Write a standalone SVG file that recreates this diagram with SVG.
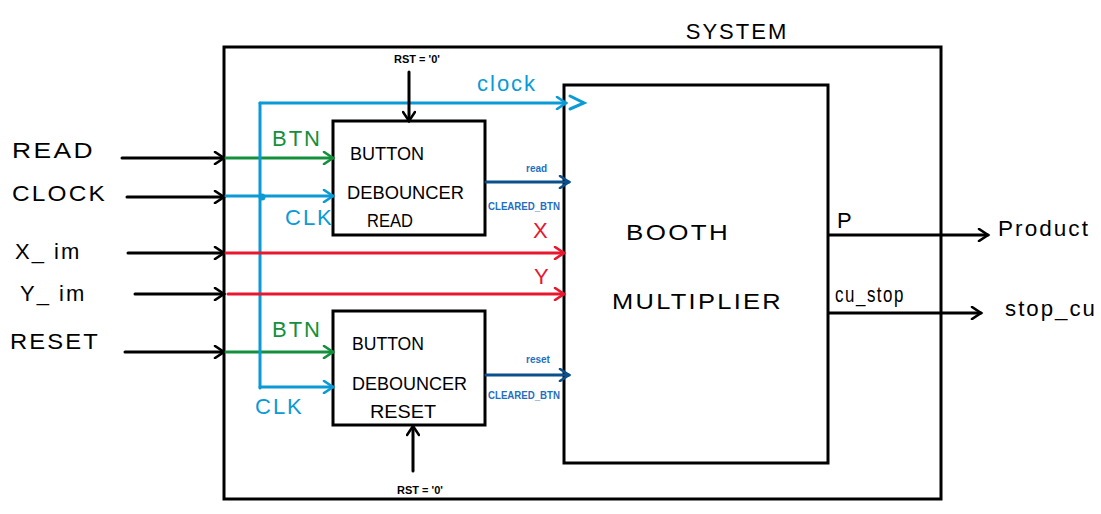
<svg xmlns="http://www.w3.org/2000/svg" width="1101" height="514" viewBox="0 0 1101 514">
<defs>
<style>
.box{fill:#fff;stroke:#000;stroke-width:3}
.w{fill:none;stroke-width:3;stroke-linecap:round}
.k{stroke:#000}.b{stroke:#0a9ad6}.g{stroke:#14903c}.r{stroke:#e8162e}.d{stroke:#0b4f8c}
.hand{font-family:"Liberation Sans",Arial,sans-serif;font-size:22px;fill:#000;letter-spacing:2px}
.inbox{font-family:"Liberation Sans",Arial,sans-serif;font-size:19px;fill:#000}
.small{font-family:"Liberation Sans",Arial,sans-serif;font-size:10px;fill:#1f6fc0;font-weight:bold}
.rst{font-family:"Liberation Sans",Arial,sans-serif;font-size:11px;fill:#000;font-weight:bold}
</style>
<marker id="ak" markerWidth="14" markerHeight="14" refX="11" refY="7" orient="auto" markerUnits="userSpaceOnUse"><path d="M2,1 L11,7 L2,13" fill="none" stroke="#000" stroke-width="2.6" stroke-linecap="round"/></marker>
<marker id="ab" markerWidth="14" markerHeight="14" refX="11" refY="7" orient="auto" markerUnits="userSpaceOnUse"><path d="M2,1 L11,7 L2,13" fill="none" stroke="#0a9ad6" stroke-width="2.6" stroke-linecap="round"/></marker>
<marker id="ag" markerWidth="14" markerHeight="14" refX="11" refY="7" orient="auto" markerUnits="userSpaceOnUse"><path d="M2,1 L11,7 L2,13" fill="none" stroke="#14903c" stroke-width="2.6" stroke-linecap="round"/></marker>
<marker id="ar" markerWidth="14" markerHeight="14" refX="11" refY="7" orient="auto" markerUnits="userSpaceOnUse"><path d="M2,1 L11,7 L2,13" fill="none" stroke="#e8162e" stroke-width="2.6" stroke-linecap="round"/></marker>
<marker id="ad" markerWidth="14" markerHeight="14" refX="11" refY="7" orient="auto" markerUnits="userSpaceOnUse"><path d="M2,1 L11,7 L2,13" fill="none" stroke="#0b4f8c" stroke-width="2.6" stroke-linecap="round"/></marker>
</defs>
<rect width="1101" height="514" fill="#fff"/>

<g id="system">
<rect class="box" x="224" y="47" width="717" height="452" fill="none"/>
<text class="hand" x="737" y="39" font-size="18" text-anchor="middle">SYSTEM</text>
</g>

<g id="booth">
<rect class="box" x="564" y="85" width="264" height="378"/>
<text class="hand" x="626" y="240" font-size="24" textLength="104" lengthAdjust="spacingAndGlyphs">BOOTH</text>
<text class="hand" x="612" y="309" font-size="24" textLength="171" lengthAdjust="spacingAndGlyphs">MULTIPLIER</text>
</g>

<g id="debouncer-read">
<rect class="box" x="333" y="121" width="152" height="114"/>
<text class="inbox" x="350" y="160" textLength="74" lengthAdjust="spacingAndGlyphs">BUTTON</text>
<text class="inbox" x="347" y="199" textLength="117" lengthAdjust="spacingAndGlyphs">DEBOUNCER</text>
<text class="inbox" x="367" y="227" textLength="46" lengthAdjust="spacingAndGlyphs">READ</text>
</g>

<g id="debouncer-reset">
<rect class="box" x="333" y="311" width="152" height="114"/>
<text class="inbox" x="352" y="350" textLength="72" lengthAdjust="spacingAndGlyphs">BUTTON</text>
<text class="inbox" x="352" y="390" textLength="115" lengthAdjust="spacingAndGlyphs">DEBOUNCER</text>
<text class="inbox" x="370" y="418" textLength="66" lengthAdjust="spacingAndGlyphs">RESET</text>
</g>

<g id="labels">
<text class="hand" x="12" y="158" textLength="83" lengthAdjust="spacingAndGlyphs">READ</text>
<text class="hand" x="12" y="201" textLength="95" lengthAdjust="spacingAndGlyphs">CLOCK</text>
<text class="hand" x="15" y="259">X_ im</text>
<text class="hand" x="20" y="301">Y_ im</text>
<text class="hand" x="10" y="349" textLength="90" lengthAdjust="spacingAndGlyphs">RESET</text>
<text class="hand" x="272" y="146" style="fill:#14903c" font-size="18">BTN</text>
<text class="hand" x="272" y="337" style="fill:#14903c" font-size="18">BTN</text>
<text class="hand" x="285" y="225" style="fill:#0a9ad6" font-size="17">CLK</text>
<text class="hand" x="255" y="414" style="fill:#0a9ad6" font-size="17">CLK</text>
<text class="hand" x="477" y="91" style="fill:#0a9ad6" font-size="20">clock</text>
<text class="hand" x="533" y="238" style="fill:#e8162e" font-size="20">X</text>
<text class="hand" x="534" y="284" style="fill:#e8162e" font-size="20">Y</text>
<text class="small" x="526" y="172">read</text>
<text class="small" x="488" y="210" textLength="72" lengthAdjust="spacingAndGlyphs">CLEARED_BTN</text>
<text class="small" x="526" y="363">reset</text>
<text class="small" x="488" y="399" textLength="72" lengthAdjust="spacingAndGlyphs">CLEARED_BTN</text>
<text class="rst" x="417" y="63" text-anchor="middle">RST = '0'</text>
<text class="rst" x="420" y="494" text-anchor="middle">RST = '0'</text>
<text class="hand" x="837" y="228" font-size="18">P</text>
<text class="hand" x="835" y="302" font-size="15" letter-spacing="0" textLength="70" lengthAdjust="spacingAndGlyphs">cu_stop</text>
<text class="hand" x="998" y="236" font-size="22" letter-spacing="0" textLength="92" lengthAdjust="spacingAndGlyphs">Product</text>
<text class="hand" x="1005" y="316" font-size="20" letter-spacing="0" textLength="92" lengthAdjust="spacingAndGlyphs">stop_cu</text>
</g>

<g id="connectors">
<line class="w k" x1="122" y1="158" x2="224" y2="158" marker-end="url(#ak)"/>
<line class="w k" x1="127" y1="197" x2="224" y2="197" marker-end="url(#ak)"/>
<line class="w k" x1="128" y1="253" x2="224" y2="253" marker-end="url(#ak)"/>
<line class="w k" x1="135" y1="294" x2="224" y2="294" marker-end="url(#ak)"/>
<line class="w k" x1="125" y1="352" x2="224" y2="352" marker-end="url(#ak)"/>

<line class="w g" x1="226" y1="158" x2="333" y2="158" marker-end="url(#ag)"/>
<line class="w g" x1="226" y1="352" x2="333" y2="352" marker-end="url(#ag)"/>

<line class="w b" x1="226" y1="196" x2="333" y2="196" marker-end="url(#ab)"/>
<polyline class="w b" points="260,388 260,103"/>
<line class="w b" x1="260" y1="103" x2="566" y2="103" marker-end="url(#ab)"/>
<path class="w b" d="M570,96 L584,103 L570,109"/>
<polyline class="w b" points="260,387 333,387" marker-end="url(#ab)"/>
<circle cx="262" cy="197" r="3.5" fill="#0a9ad6"/>

<line class="w r" x1="226" y1="253" x2="564" y2="253" marker-end="url(#ar)"/>
<line class="w r" x1="228" y1="294" x2="564" y2="294" marker-end="url(#ar)"/>

<line class="w d" x1="486" y1="182" x2="569" y2="182" marker-end="url(#ad)"/>
<line class="w d" x1="486" y1="375" x2="569" y2="375" marker-end="url(#ad)"/>

<line class="w k" x1="409" y1="72" x2="409" y2="121" marker-end="url(#ak)"/>
<line class="w k" x1="413" y1="471" x2="413" y2="426" marker-end="url(#ak)"/>

<line class="w k" x1="829" y1="235" x2="988" y2="235" marker-end="url(#ak)"/>
<line class="w k" x1="829" y1="313" x2="981" y2="313" marker-end="url(#ak)"/>
</g>
</svg>
